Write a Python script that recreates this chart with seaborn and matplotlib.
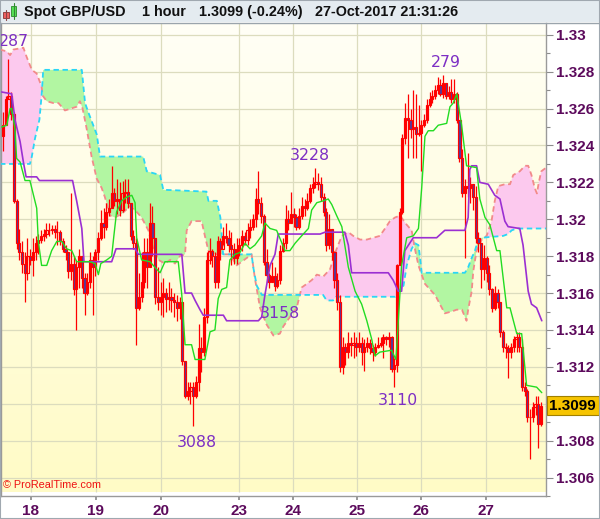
import numpy as np
import matplotlib
matplotlib.use("Agg")
import matplotlib.pyplot as plt
import matplotlib.transforms as mtransforms
from matplotlib.patches import Rectangle
from matplotlib.lines import Line2D
from matplotlib.colors import LinearSegmentedColormap
import seaborn as sns

sns.set_theme(style="white")
plt.rcParams["font.family"] = ["Liberation Sans", "DejaVu Sans"]

# ---------------- data (hourly candles, GBP/USD) ----------------
open_first = 1.3245
close = [1.3251, 1.3265, 1.3267, 1.3257, 1.3210, 1.3187, 1.3182, 1.3176, 1.3171, 1.3180,
         1.3178, 1.3182, 1.3187, 1.3189, 1.3191, 1.3192, 1.3194, 1.3194, 1.3195, 1.3193,
         1.3193, 1.3188, 1.3184, 1.3182, 1.3172, 1.3176, 1.3162, 1.3174, 1.3180, 1.3168,
         1.3160, 1.3166, 1.3178, 1.3174, 1.3182, 1.3190, 1.3198, 1.3196, 1.3204, 1.3206,
         1.3214, 1.3210, 1.3211, 1.3205, 1.3214, 1.3215, 1.3209, 1.3191, 1.3187, 1.3152,
         1.3158, 1.3166, 1.3182, 1.3174, 1.3198, 1.3190, 1.3158, 1.3155, 1.3158, 1.3160,
         1.3157, 1.3158, 1.3156, 1.3155, 1.3152, 1.3155, 1.3123, 1.3104, 1.3107, 1.3109,
         1.3104, 1.3112, 1.3130, 1.3128, 1.3147, 1.3178, 1.3183, 1.3180, 1.3166, 1.3188,
         1.3184, 1.3191, 1.3190, 1.3186, 1.3184, 1.3179, 1.3184, 1.3186, 1.3191, 1.3189,
         1.3194, 1.3196, 1.3200, 1.3211, 1.3209, 1.3202, 1.3177, 1.3170, 1.3166, 1.3169,
         1.3164, 1.3167, 1.3183, 1.3187, 1.3200, 1.3198, 1.3203, 1.3201, 1.3196, 1.3202,
         1.3207, 1.3206, 1.3210, 1.3217, 1.3219, 1.3220, 1.3219, 1.3212, 1.3204, 1.3186,
         1.3195, 1.3182, 1.3167, 1.3155, 1.3120, 1.3131, 1.3128, 1.3133, 1.3132, 1.3133,
         1.3131, 1.3133, 1.3128, 1.3131, 1.3133, 1.3130, 1.3128, 1.3131, 1.3132, 1.3133,
         1.3136, 1.3135, 1.3136, 1.3119, 1.3121, 1.3175, 1.3204, 1.3244, 1.3255, 1.3254,
         1.3249, 1.3250, 1.3246, 1.3247, 1.3251, 1.3254, 1.3262, 1.3265, 1.3267, 1.3270,
         1.3273, 1.3268, 1.3274, 1.3267, 1.3269, 1.3265, 1.3268, 1.3254, 1.3233, 1.3214,
         1.3218, 1.3217, 1.3219, 1.3212, 1.3190, 1.3187, 1.3173, 1.3179, 1.3171, 1.3162,
         1.3152, 1.3160, 1.3155, 1.3139, 1.3131, 1.3130, 1.3128, 1.3131, 1.3135, 1.3136,
         1.3131, 1.3109, 1.3107, 1.3093, 1.3093, 1.3098, 1.3100, 1.3089, 1.3099]
high = [1.3258, 1.3267, 1.3287, 1.3269, 1.3258, 1.3211, 1.3195, 1.3188, 1.3182, 1.3190,
        1.3184, 1.3190, 1.3191, 1.3192, 1.3194, 1.3195, 1.3198, 1.3198, 1.3197, 1.3197,
        1.3199, 1.3194, 1.3190, 1.3186, 1.3182, 1.3214, 1.3180, 1.3178, 1.3184, 1.3179,
        1.3171, 1.3171, 1.3182, 1.3180, 1.3184, 1.3193, 1.3205, 1.3206, 1.3209, 1.3211,
        1.3229, 1.3217, 1.3222, 1.3220, 1.3221, 1.3222, 1.3222, 1.3209, 1.3194, 1.3190,
        1.3171, 1.3182, 1.3190, 1.3190, 1.3209, 1.3207, 1.3190, 1.3174, 1.3166, 1.3168,
        1.3163, 1.3166, 1.3163, 1.3160, 1.3159, 1.3158, 1.3155, 1.3123, 1.3112, 1.3112,
        1.3112, 1.3115, 1.3143, 1.3136, 1.3152, 1.3182, 1.3190, 1.3184, 1.3182, 1.3191,
        1.3190, 1.3196, 1.3198, 1.3194, 1.3193, 1.3187, 1.3190, 1.3190, 1.3194, 1.3193,
        1.3198, 1.3200, 1.3203, 1.3217, 1.3226, 1.3212, 1.3203, 1.3184, 1.3171, 1.3177,
        1.3174, 1.3171, 1.3186, 1.3190, 1.3208, 1.3205, 1.3215, 1.3206, 1.3203, 1.3206,
        1.3212, 1.3211, 1.3214, 1.3219, 1.3223, 1.3228, 1.3225, 1.3223, 1.3214, 1.3206,
        1.3203, 1.3190, 1.3183, 1.3171, 1.3159, 1.3136, 1.3133, 1.3139, 1.3136, 1.3139,
        1.3136, 1.3139, 1.3136, 1.3135, 1.3136, 1.3135, 1.3132, 1.3133, 1.3136, 1.3136,
        1.3138, 1.3137, 1.3139, 1.3137, 1.3125, 1.3176, 1.3206, 1.3246, 1.3263, 1.3268,
        1.3260, 1.3270, 1.3268, 1.3262, 1.3254, 1.3257, 1.3265, 1.3269, 1.3270, 1.3273,
        1.3277, 1.3276, 1.3278, 1.3274, 1.3272, 1.3276, 1.3276, 1.3269, 1.3254, 1.3238,
        1.3222, 1.3236, 1.3223, 1.3219, 1.3218, 1.3193, 1.3187, 1.3186, 1.3180, 1.3175,
        1.3163, 1.3164, 1.3162, 1.3155, 1.3140, 1.3133, 1.3132, 1.3133, 1.3137, 1.3139,
        1.3139, 1.3135, 1.3112, 1.3108, 1.3097, 1.3101, 1.3104, 1.3104, 1.3101]
low = [1.3237, 1.3251, 1.3265, 1.3254, 1.3209, 1.3184, 1.3178, 1.3171, 1.3155, 1.3167,
       1.3175, 1.3169, 1.3178, 1.3181, 1.3187, 1.3188, 1.3190, 1.3191, 1.3192, 1.3190,
       1.3186, 1.3186, 1.3182, 1.3178, 1.3168, 1.3167, 1.3159, 1.3140, 1.3163, 1.3163,
       1.3148, 1.3159, 1.3163, 1.3148, 1.3169, 1.3178, 1.3189, 1.3190, 1.3194, 1.3202,
       1.3206, 1.3207, 1.3203, 1.3202, 1.3204, 1.3209, 1.3206, 1.3189, 1.3184, 1.3132,
       1.3151, 1.3155, 1.3163, 1.3163, 1.3174, 1.3180, 1.3154, 1.3151, 1.3148, 1.3147,
       1.3150, 1.3151, 1.3150, 1.3147, 1.3145, 1.3146, 1.3121, 1.3103, 1.3102, 1.3100,
       1.3088, 1.3103, 1.3107, 1.3117, 1.3126, 1.3144, 1.3176, 1.3174, 1.3163, 1.3163,
       1.3178, 1.3186, 1.3187, 1.3182, 1.3175, 1.3176, 1.3176, 1.3180, 1.3183, 1.3186,
       1.3186, 1.3190, 1.3194, 1.3196, 1.3203, 1.3198, 1.3175, 1.3166, 1.3163, 1.3166,
       1.3161, 1.3163, 1.3165, 1.3182, 1.3184, 1.3194, 1.3198, 1.3196, 1.3194, 1.3195,
       1.3200, 1.3202, 1.3205, 1.3209, 1.3214, 1.3217, 1.3216, 1.3210, 1.3202, 1.3183,
       1.3184, 1.3178, 1.3163, 1.3151, 1.3117, 1.3116, 1.3121, 1.3125, 1.3126, 1.3125,
       1.3126, 1.3128, 1.3121, 1.3118, 1.3128, 1.3127, 1.3123, 1.3126, 1.3130, 1.3131,
       1.3125, 1.3132, 1.3131, 1.3117, 1.3109, 1.3117, 1.3175, 1.3203, 1.3241, 1.3233,
       1.3244, 1.3233, 1.3233, 1.3245, 1.3226, 1.3250, 1.3252, 1.3261, 1.3263, 1.3265,
       1.3268, 1.3267, 1.3266, 1.3265, 1.3265, 1.3263, 1.3263, 1.3252, 1.3231, 1.3212,
       1.3179, 1.3212, 1.3209, 1.3205, 1.3187, 1.3182, 1.3163, 1.3167, 1.3166, 1.3159,
       1.3150, 1.3151, 1.3152, 1.3136, 1.3128, 1.3125, 1.3114, 1.3125, 1.3128, 1.3128,
       1.3128, 1.3107, 1.3104, 1.3090, 1.3070, 1.3090, 1.3094, 1.3076, 1.3088]

# Ichimoku lines as polyline vertices (bar index, price)
tenkan_x = [-0.5, 1.4, 2.6, 3.2, 4.4, 5.0, 6.3, 8.1, 9.9, 12.4, 13.0, 14.2, 16.1, 17.9, 19.8, 21.6,
            23.4, 25.3, 27.1, 29.6, 32.0, 33.9, 35.1, 36.0, 38.2, 40.0, 40.8, 41.8, 43.7, 45.5, 47.4,
            48.6, 49.2, 51.0, 54.1, 55.9, 57.8, 59.6, 64.5, 65.8, 67.0, 69.4, 70.7, 74.3, 76.2, 78.0,
            79.2, 80.5, 82.3, 83.5, 85.4, 87.2, 89.1, 90.9, 92.7, 95.2, 96.4, 98.3, 100.7, 103.8,
            105.6, 107.5, 109.9, 112.4, 113.6, 115.5, 117.9, 119.7, 121.0, 122.8, 124.7, 127.1,
            129.6, 132.0, 133.9, 135.7, 136.9, 138.7, 143.0, 144.6, 145.3, 146.7, 148.6, 151.0,
            152.9, 154.1, 155.3, 156.5, 158.4, 160.2, 163.3, 164.5, 165.7, 167.0, 168.8, 170.6,
            174.3, 175.5, 177.4, 179.2, 181.7, 182.9, 184.1, 185.4, 186.6, 189.1, 190.9, 192.7,
            196.4, 198.3]
tenkan_y = [1.3250, 1.3251, 1.3260, 1.3260, 1.3249, 1.3233, 1.3231, 1.3221, 1.3221, 1.3206, 1.3188,
            1.3175, 1.3175, 1.3183, 1.3188, 1.3188, 1.3184, 1.3183, 1.3177, 1.3177, 1.3177, 1.3176,
            1.3170, 1.3176, 1.3178, 1.3180, 1.3191, 1.3204, 1.3210, 1.3212, 1.3213, 1.3209, 1.3190,
            1.3178, 1.3177, 1.3174, 1.3171, 1.3177, 1.3177, 1.3159, 1.3132, 1.3132, 1.3124, 1.3124,
            1.3139, 1.3140, 1.3157, 1.3162, 1.3163, 1.3178, 1.3181, 1.3182, 1.3187, 1.3184, 1.3186,
            1.3191, 1.3198, 1.3195, 1.3194, 1.3183, 1.3183, 1.3187, 1.3191, 1.3195, 1.3205, 1.3209,
            1.3210, 1.3211, 1.3208, 1.3202, 1.3196, 1.3174, 1.3161, 1.3154, 1.3145, 1.3135, 1.3126,
            1.3128, 1.3129, 1.3124, 1.3140, 1.3175, 1.3190, 1.3191, 1.3195, 1.3217, 1.3245, 1.3248,
            1.3248, 1.3251, 1.3252, 1.3261, 1.3263, 1.3268, 1.3251, 1.3229, 1.3228, 1.3211, 1.3201,
            1.3197, 1.3183, 1.3183, 1.3168, 1.3152, 1.3152, 1.3138, 1.3138, 1.3110, 1.3109, 1.3106]
kijun_x = [-0.5, 3.2, 4.4, 6.3, 7.5, 8.5, 12.4, 13.4, 25.6, 27.1, 29.0, 29.8, 40.0, 41.6, 48.6, 49.8,
           65.8, 67.0, 69.4, 70.7, 72.5, 73.7, 81.1, 82.3, 94.0, 95.2, 96.4, 98.3, 100.1, 101.3,
           116.7, 118.5, 125.8, 127.1, 128.3, 141.8, 143.6, 145.5, 146.7, 147.9, 151.0, 159.6,
           162.6, 170.0, 171.2, 171.8, 172.5, 174.3, 175.5, 178.6, 181.0, 182.9, 184.7, 185.9,
           190.2, 191.4, 193.3, 194.5, 196.4, 198.3]
kijun_y = [1.3269, 1.3268, 1.3254, 1.3242, 1.3231, 1.3223, 1.3223, 1.3221, 1.3221, 1.3210, 1.3195,
           1.3177, 1.3177, 1.3184, 1.3184, 1.3181, 1.3181, 1.3160, 1.3160, 1.3156, 1.3151, 1.3148,
           1.3148, 1.3145, 1.3145, 1.3147, 1.3159, 1.3175, 1.3181, 1.3192, 1.3192, 1.3193, 1.3193,
           1.3186, 1.3171, 1.3171, 1.3167, 1.3161, 1.3161, 1.3183, 1.3190, 1.3190, 1.3194, 1.3194,
           1.3201, 1.3227, 1.3229, 1.3229, 1.3220, 1.3219, 1.3213, 1.3211, 1.3199, 1.3196, 1.3195,
           1.3186, 1.3161, 1.3154, 1.3152, 1.3145]
spanA_x = [-1.1, 1.4, 2.6, 3.8, 7.5, 8.7, 10.6, 12.4, 14.2, 14.6, 16.1, 18.5, 20.4, 21.6, 22.8, 27.1,
           28.3, 29.3, 30.8, 32.6, 34.5, 36.3, 37.5, 39.4, 41.2, 43.7, 46.7, 49.2, 51.0, 53.5, 55.3,
           57.2, 59.6, 61.5, 63.3, 65.1, 67.0, 67.6, 69.4, 73.1, 74.3, 75.6, 76.8, 83.5, 86.0, 89.7,
           91.5, 92.7, 94.6, 97.0, 99.5, 101.9, 103.2, 105.6, 108.1, 109.9, 111.8, 113.6, 115.5,
           117.9, 120.4, 121.6, 122.8, 124.7, 127.1, 128.9, 131.4, 133.9, 138.7, 140.6, 142.4,
           144.3, 146.1, 148.6, 150.4, 151.6, 152.9, 154.1, 155.3, 156.5, 159.0, 160.8, 162.6,
           165.1, 167.0, 168.9, 170.6, 171.2, 172.5, 173.1, 174.3, 176.2, 178.0, 179.8, 181.0,
           182.3, 184.7, 186.6, 187.8, 190.2, 192.1, 193.3, 194.5, 195.7, 196.5, 197.2, 198.1, 199.9]
spanA_y = [1.3292, 1.3291, 1.3289, 1.3292, 1.3293, 1.3288, 1.3281, 1.3279, 1.3272, 1.3267, 1.3264,
           1.3263, 1.3263, 1.3261, 1.3259, 1.3261, 1.3264, 1.3260, 1.3249, 1.3234, 1.3222, 1.3217,
           1.3212, 1.3202, 1.3201, 1.3203, 1.3207, 1.3204, 1.3201, 1.3194, 1.3184, 1.3178, 1.3176,
           1.3178, 1.3176, 1.3180, 1.3181, 1.3194, 1.3199, 1.3199, 1.3191, 1.3183, 1.3181, 1.3181,
           1.3175, 1.3179, 1.3181, 1.3168, 1.3152, 1.3143, 1.3137, 1.3138, 1.3142, 1.3147, 1.3152,
           1.3163, 1.3165, 1.3167, 1.3170, 1.3169, 1.3173, 1.3179, 1.3184, 1.3191, 1.3193, 1.3191,
           1.3189, 1.3189, 1.3191, 1.3195, 1.3199, 1.3201, 1.3202, 1.3197, 1.3194, 1.3184, 1.3175,
           1.3170, 1.3165, 1.3163, 1.3159, 1.3154, 1.3149, 1.3150, 1.3151, 1.3151, 1.3145, 1.3151,
           1.3161, 1.3172, 1.3183, 1.3189, 1.3191, 1.3199, 1.3210, 1.3218, 1.3219, 1.3219, 1.3224,
           1.3226, 1.3229, 1.3229, 1.3224, 1.3217, 1.3214, 1.3220, 1.3226, 1.3228]
spanB_x = [-1.1, 9.9, 10.6, 11.8, 13.4, 14.2, 14.8, 29.0, 30.2, 31.4, 34.5, 35.7, 51.6, 52.9, 57.8,
           59.0, 74.9, 75.6, 78.7, 80.0, 81.0, 91.5, 92.1, 93.4, 95.3, 117.8, 119.1, 121.5, 122.6,
           144.3, 145.5, 147.4, 148.6, 150.4, 151.6, 152.9, 153.5, 154.1, 170.0, 171.2, 172.5,
           173.7, 174.9, 176.2, 184.1, 185.9, 187.2, 189.1, 199.9]
spanB_y = [1.3230, 1.3230, 1.3234, 1.3244, 1.3254, 1.3267, 1.3281, 1.3281, 1.3263, 1.3258, 1.3246,
           1.3234, 1.3234, 1.3226, 1.3224, 1.3216, 1.3215, 1.3210, 1.3210, 1.3201, 1.3181, 1.3181,
           1.3174, 1.3164, 1.3159, 1.3159, 1.3156, 1.3156, 1.3158, 1.3158, 1.3161, 1.3164, 1.3175,
           1.3184, 1.3187, 1.3186, 1.3179, 1.3171, 1.3171, 1.3174, 1.3179, 1.3183, 1.3189, 1.3190,
           1.3191, 1.3192, 1.3194, 1.3195, 1.3195]

day_labels = ["18", "19", "20", "23", "24", "25", "26", "27"]
price_ticks = [1.306, 1.308, 1.310, 1.312, 1.314, 1.316, 1.318, 1.320, 1.322, 1.324, 1.326, 1.328, 1.330]
# the 1.31 label is hidden behind the last-price marker in the reference
price_labels = ["1.306", "1.308", "", "1.312", "1.314", "1.316", "1.318", "1.32", "1.322",
                "1.324", "1.326", "1.328", "1.33"]
last_price = 1.3099
note_texts = ["287", "279", "3228", "3158", "3088", "3110"]

# ---------------- layout ----------------
day_pos = [10.2, 34.2, 58.2, 87.0, 106.8, 130.3, 154.0, 177.7]
note_pos = [(4.2, 1.32962), (163.0, 1.32850), (113.0, 1.32344), (102.0, 1.31490),
            (71.4, 1.30792), (145.4, 1.31017)]

W, H = 600, 519
fig = plt.figure(figsize=(W / 100, H / 100), dpi=100)
fig.patch.set_facecolor("white")
ax = fig.add_axes([1 / W, 1 - 496 / H, 545 / W, 473 / H])

XMIN, XMAX = -0.74, 199.85
YMIN, YMAX = 1.30523, 1.33064

# background gradient
cmap = LinearSegmentedColormap.from_list("bg", ["#fffff6", "#fffbc6"])
grad = np.linspace(0, 1, 256).reshape(-1, 1)
ax.imshow(grad, extent=[XMIN, XMAX, YMIN, YMAX], origin="upper", aspect="auto",
          cmap=cmap, zorder=0, interpolation="bilinear")

# grid
grid_c = "#dcdcbe"
ax.vlines(day_pos, YMIN, YMAX, color=grid_c, lw=0.9, zorder=1)
ax.hlines(price_ticks, XMIN, XMAX, color=grid_c, lw=0.9, zorder=1)

# cloud fill
gx = np.union1d(spanA_x, spanB_x)
ga = np.interp(gx, spanA_x, spanA_y)
gb = np.interp(gx, spanB_x, spanB_y)
ax.fill_between(gx, ga, gb, where=ga >= gb, interpolate=True, color="#fcc9ee", lw=0, zorder=2)
ax.fill_between(gx, ga, gb, where=gb >= ga, interpolate=True, color="#b2f6a2", lw=0, zorder=2)

sns.lineplot(x=spanA_x, y=spanA_y, ax=ax, color="#f28a8a", lw=1.3, sort=False,
             estimator=None, linestyle=(0, (3, 2)), zorder=3)
sns.lineplot(x=spanB_x, y=spanB_y, ax=ax, color="#2ad6f6", lw=1.3, sort=False,
             estimator=None, linestyle=(0, (3, 2)), zorder=3)

# candles
n = min(len(close), len(high), len(low))
c = np.array(close[:n])
o = np.array([open_first] + close[:n - 1])
hi = np.array(high[:n])
lo = np.array(low[:n])
xi = np.arange(n)
ax.vlines(xi, lo, hi, color="#ff0000", lw=0.9, zorder=4)
dn = c < o
ax.bar(xi[~dn], (c - o)[~dn], bottom=o[~dn], width=0.78, facecolor="none",
       edgecolor="#ff0000", lw=0.85, zorder=5)
ax.bar(xi[dn], (c - o)[dn], bottom=o[dn], width=0.78, facecolor="#4d3c9e",
       edgecolor="#ff0000", lw=0.85, zorder=5)

# tenkan / kijun
sns.lineplot(x=kijun_x, y=kijun_y, ax=ax, color="#9b2fd2", lw=1.2, sort=False,
             estimator=None, zorder=6)
sns.lineplot(x=tenkan_x, y=tenkan_y, ax=ax, color="#22dc22", lw=1.0, sort=False,
             estimator=None, zorder=6)

# annotations
for t, (px, py) in zip(note_texts, note_pos):
    ax.text(px, py, t, ha="center", va="center", color="#7d2fc4", fontsize=11.3,
            family="DejaVu Sans", zorder=7)

ax.text(0.004, 0.013, "\u00a9 ProRealTime.com", transform=ax.transAxes, color="#ee1111",
        fontsize=7.8, ha="left", va="bottom", zorder=7)

ax.set_xlim(XMIN, XMAX)
ax.set_ylim(YMIN, YMAX)
ax.set_xlabel("")
ax.set_ylabel("")
if ax.get_legend():
    ax.get_legend().remove()

# axes / ticks
lab_c = "#5c0a5c"
ax.yaxis.tick_right()
ax.set_yticks(price_ticks)
ax.set_yticklabels(price_labels)
ax.set_yticks(list(np.arange(1.305, 1.3305, 0.002)), minor=True)
ax.tick_params(axis="y", which="both", right=True, left=False, labelright=True,
               labelleft=False, direction="out", color="#8c8c8c", width=0.8)
ax.tick_params(axis="y", which="major", length=5, labelcolor=lab_c, labelsize=11, pad=2)
ax.tick_params(axis="y", which="minor", length=3)
ax.set_xticks(day_pos)
ax.set_xticklabels(day_labels)
ax.tick_params(axis="x", bottom=True, direction="out", length=3, color="#8c8c8c",
               labelcolor=lab_c, labelsize=11, pad=3)
for t in ax.get_yticklabels() + ax.get_xticklabels():
    t.set_fontweight("bold")

for s in ["left", "right", "bottom"]:
    ax.spines[s].set_visible(True)
    ax.spines[s].set_color("#9a9a9a")
    ax.spines[s].set_linewidth(1.0)
ax.spines["top"].set_visible(False)

# last price box
blend = mtransforms.blended_transform_factory(ax.transAxes, ax.transData)
ax.plot([1.0, 1.01], [last_price, last_price], transform=blend, color=lab_c, lw=1,
        clip_on=False)
ax.text(1.006, last_price, "%.4f" % last_price, transform=blend, ha="left", va="center",
        fontsize=11, fontweight="bold", color="black",
        bbox=dict(boxstyle="square,pad=0.18", fc="#f6c400", ec="#a08000", lw=0.8))

# title bar
fig.add_artist(Rectangle((0, 1 - 22 / H), 1, 22 / H, transform=fig.transFigure,
                         fc="#e4ebf0", ec="none", zorder=0))
fig.add_artist(Line2D([0, 1], [1 - 22.5 / H, 1 - 22.5 / H], transform=fig.transFigure,
                      color="#9aa4ac", lw=1))
# icon
def px_rect(x0, y0, w, h, fc, ec):
    fig.add_artist(Rectangle((x0 / W, 1 - (y0 + h) / H), w / W, h / H,
                             transform=fig.transFigure, fc=fc, ec=ec, lw=0.6))
fig.add_artist(Line2D([6 / W, 6 / W], [1 - 10 / H, 1 - 20 / H], transform=fig.transFigure,
                      color="#884444", lw=0.8))
px_rect(3, 12, 6, 6, "#f06060", "#883333")
fig.add_artist(Line2D([13.5 / W, 13.5 / W], [1 - 3 / H, 1 - 19 / H], transform=fig.transFigure,
                      color="#338833", lw=0.8))
px_rect(11, 6, 5, 10, "#55e055", "#2a8a2a")

title_parts = [(23.5, "Spot GBP/USD"), (141.5, "1 hour"), (199, "1.3099 (-0.24%)"),
               (315, "27-Oct-2017 21:31:26")]
for xp, txt in title_parts:
    fig.text(xp / W, 1 - 12 / H, txt, ha="left", va="center", fontsize=10.4,
             fontweight="bold", color="#111111")

fig.add_artist(Rectangle((0, 0), 1, 1, transform=fig.transFigure, fill=False,
                         ec="#a0a8b0", lw=1.5))

fig.savefig("out.png", dpi=100, facecolor="white")
